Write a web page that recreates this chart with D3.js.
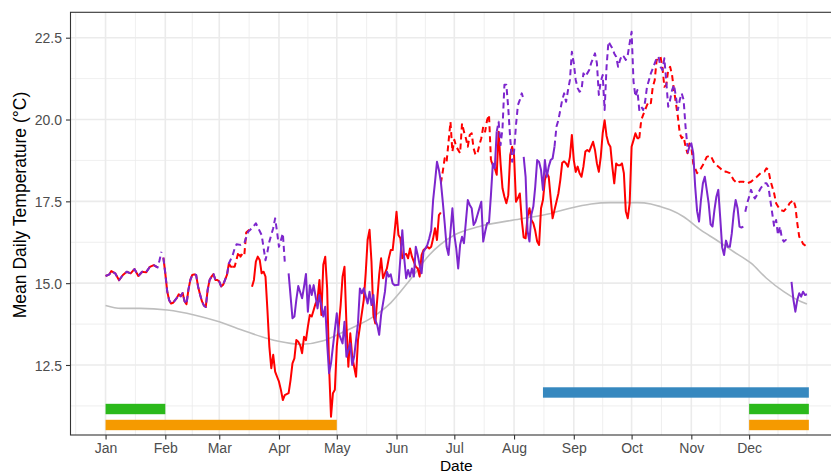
<!DOCTYPE html>
<html>
<head>
<meta charset="utf-8">
<script src="https://cdn.jsdelivr.net/npm/d3@7"></script>
<style>
  body { margin: 0; background: #fff; }
  svg { display: block; font-family: "Liberation Sans", Arial, Helvetica, sans-serif; }
</style>
</head>
<body>
<script>
// ---- data: [day of year (0 = Jan 1), mean daily temperature] ----

// Jan - mid Mar both years read the same
var janShared = [[0,15.22],[2,15.27],[3,15.37],[5,15.3],[7,15.09],[9,15.25],[11,15.35],[13,15.3],[15,15.43],
  [17,15.22],[19,15.35],[21,15.33],[23,15.5],[25,15.55],[27,15.48]];
var febShared = [[30,15.78],[31,15.3],[32,14.75],[33,14.48],[34,14.38],[35,14.4],[37,14.55],[38,14.66],[39,14.6],
  [40,14.7],[41,14.45],[42,14.36],[43,14.8],[44,15.1],[45,15.25],[46,15.27],[47,15.25],[48,14.9],[49,14.66],
  [50,14.45],[51,14.32],[52,14.27],[53,14.8],[54,15.1],[55,15.2],[56,15.28],[57,15.1],[58,15.1],[59,15.05],
  [60,14.9],[61,14.95],[62,15.1],[63,15.25],[64,15.6]];

// red series
var redFebEnd = [[64,15.6],[65,15.5],[66,15.5]];
var redMarDash = [[66,15.5],[67,15.5],[69,15.96],[70,15.81],[71,15.9],[72,15.85],[73,16.55],[74,16.6],[75,16.65]];
var redSpring = [[76,14.89],[77,15.1],[78,15.66],[79,15.81],[80,15.71],[81,15.3],[82,15.35],[83,15.2],[84,14.18],
  [85,13.06],[86,12.4],[87,12.81],[88,12.3],[89,12.14],[90,11.99],[91,11.74],[92,11.43],[93,11.58],[95,11.64],
  [96,12.04],[97,12.55],[98,12.7],[99,13.26],[100,13.21],[101,13.1],[102,12.86],[103,13.36],[104,13.26],[105,13.67],
  [106,14.03],[107,13.98],[109,14.38],[110,14.49],[111,15.1],[112,14.03],[113,15.56],[114,15.81],[115,14.84],
  [116,12.45],[117,10.92],[118,11.64],[119,11.74],[120,13.06],[121,13.67],[122,14.33],[123,15.2],[124,15.5],
  [125,13.77],[126,12.45],[127,13.47],[128,12.75],[130,12.14],[131,13.26],[132,13.67],[134,14.49],[135,15.3],
  [136,16.32],[137,16.63],[138,15.66],[139,14.03],[140,13.77],[142,15.25],[143,15.76],[144,15.15],[146,15.45],
  [147,15.76],[148,16.01],[149,16.01],[150,16.57],[151,17.18],[152,16.47],[153,16.37],[154,15.76],[155,15.86],
  [156,15.9],[157,15.76],[158,16.06],[159,15.81],[160,15.66],[161,15.5],[162,15.45],[163,15.2],[164,15.86],
  [165,16.01],[166,16.06],[167,16.11],[168,16.06],[169,16.11],[170,16.37],[171,16.68],[172,16.32],[173,17.08],
  [174,17.16]];
var redJulDash = [[174,18.05],[175,18.41],[176,18.82],[177,18.71],[178,19.32],[179,19.93],[180,19.02],[181,19.38],
  [182,19.17],[184,18.97],[185,19.88],[186,19.63],[187,19.43],[188,19.17],[189,19.53],[190,19.58],[191,19.12],
  [192,18.92],[193,18.97],[194,19.22],[195,19.43],[196,19.78],[197,19.63],[198,19.98],[199,20.14],[200,18.76]];
var redLateSummer = [[200,18.76],[201,18.61],[202,18.51],[203,18.31],[204,19.63],[205,18.66],[206,17.9],[207,17.64],
  [208,17.44],[209,17.69],[210,18.92],[211,19.17],[212,18.9],[213,17.49],[214,17.6],[215,17.74],[216,16.93],
  [217,16.4],[218,16.37],[219,17.03],[220,17.29],[221,16.93],[222,16.83],[223,16.6],[224,16.27],[225,16.17],
  [226,17.29],[227,17.54],[228,18.15],[229,18.36],[230,18.25],[231,17.6],[232,16.98],[233,17.24],[234,17.49],
  [235,17.74],[236,18.15],[237,18.68],[238,18.72],[239,18.66],[240,18.56],[241,18.86],[242,19.53],[243,18.76],
  [244,18.4],[245,18.56],[246,18.36],[247,18.25],[248,18.56],[249,19.02],[250,19.07],[251,19.02],[252,19.17],
  [253,19.32],[254,19.07],[255,18.66],[256,18.4],[257,18.86],[258,19.58],[259,19.98],[260,19.5],[261,19.27],
  [262,19.17],[263,18.56],[264,18.05],[265,18.66],[266,18.6],[267,18.6],[268,18.66],[269,18.36],[270,17.2],
  [271,16.98],[272,17.44],[273,19.17],[274,19.37],[275,19.58],[276,19.43],[277,19.43]];
var redAutumnDash = [[277,19.43],[278,19.98],[279,20.14],[280,20.29],[281,20.44],[282,20.55],[283,20.5],[284,21.0],
  [285,21.2],[286,21.82],[287,21.85],[288,21.92],[289,21.6],[290,21.0],[291,21.06],[292,21.51],[293,21.61],
  [294,21.36],[295,20.9],[296,20.5],[297,20.09],[298,19.58],[299,19.43],[300,19.48],[301,19.17],[302,18.97],
  [303,19.27],[304,19.17],[305,18.66],[307,18.36],[309,18.51],[310,18.61],[312,18.86],[314,18.9],[316,18.66],
  [317,18.61],[319,18.51],[321,18.4],[322,18.41],[324,18.36],[326,18.15],[328,18.05],[329,18.1],[331,18.1],
  [333,18.05],[335,18.1],[336,18.15],[338,18.25],[340,18.36],[342,18.41],[343,18.51],[344,18.46],[345,18.15],
  [347,17.74],[348,17.44],[350,17.24],[352,17.2],[354,17.34],[355,17.44],[357,17.54],[358,17.34],[359,16.83],
  [360,16.42],[361,16.32],[362,16.2],[364,16.11]];

// purple series
var purpleJanEnd = [[28,15.7],[29,15.96]];
var purpleMarDash = [[64,15.6],[66,15.86],[67,16.06],[68,16.19],[70,16.17],[71,16.2],[72,16.22],[74,16.57],
  [76,16.68],[78,16.83],[81,16.47],[83,15.7],[84,15.96],[85,16.27],[87,16.68],[88,16.98],[89,16.57],[90,16.11],
  [92,16.52],[93,15.66]];
var purpleSpring = [[95,15.3],[97,13.93],[98,13.98],[99,14.49],[100,14.91],[102,14.54],[103,14.89],[104,15.28],
  [105,14.13],[106,14.94],[107,14.64],[108,14.94],[109,14.59],[110,14.23],[111,14.64],[113,13.98],[114,14.28],
  [115,13.16],[116,12.25],[117,12.55],[119,13.57],[120,14.08],[121,13.47],[123,13.16],[124,13.82],[125,12.75],
  [127,13.16],[128,12.5],[129,12.75],[131,13.77],[132,14.84],[133,14.69],[134,14.84],[136,14.38],[137,14.74],
  [138,14.33],[139,14.64],[140,13.87],[141,13.72],[142,13.42],[143,14.03],[145,14.74],[146,15.35],[147,15.2],
  [148,15.27],[149,14.99],[150,14.94],[152,14.95],[153,15.76],[154,16.62],[155,15.76],[156,15.15],[157,15.4],
  [158,15.2],[159,15.45],[160,15.2],[161,16.11],[162,15.86],[163,15.56],[164,15.3],[165,15.96],[166,16.06],
  [167,16.17],[168,16.37],[169,16.62],[170,17.54],[171,18.1],[172,18.71],[173,18.46],[174,18.1],[175,17.49],
  [176,16.83],[177,16.11],[178,15.86],[179,16.57],[180,17.29],[181,16.47],[182,16.06],[183,15.45],[184,16.17],
  [185,16.42],[186,16.22],[187,16.88],[188,17.54],[189,17.39],[190,17.29],[191,16.78],[192,16.88],[193,17.08],
  [194,17.29],[195,17.49],[196,16.27],[197,16.57],[198,16.83],[199,16.85],[200,17.69],[201,18.66],[202,18.51],
  [203,19.63]];
var purpleJulDash = [[203,19.63],[204,19.93],[205,19.22],[206,19.73],[207,21.06],[208,21.06],[209,20.34],
  [210,19.43],[211,18.71],[212,19.02],[213,19.83],[214,20.44],[215,20.6],[216,20.8],[217,20.6]];
var purpleAug = [[217,18.86],[218,18.25],[219,16.6],[220,16.27],[221,17.1],[222,17.34],[223,17.95],[224,18.76],
  [225,18.7],[226,18.46],[227,17.85],[228,18.76],[229,18.25],[230,18.56],[231,18.76],[232,18.81],[233,19.17]];
var purpleAutumnDash = [[233,19.17],[234,19.78],[235,19.98],[236,20.29],[237,20.6],[238,20.8],[239,20.54],
  [240,20.9],[241,21.21],[242,22.07],[243,21.72],[244,21.21],[245,20.96],[246,20.85],[247,20.9],[248,21.41],
  [249,21.31],[250,21.41],[251,21.51],[252,21.72],[254,22.02],[255,21.72],[256,20.75],[257,21.16],[258,21.36],
  [259,20.29],[260,21.61],[261,22.38],[262,22.28],[263,22.18],[264,22.02],[265,21.92],[266,21.61],[267,21.82],
  [268,21.97],[269,21.92],[270,21.82],[271,21.97],[272,22.33],[273,22.68],[274,21.16],[275,20.7],[276,20.9],
  [277,20.29],[278,20.4],[279,20.29],[280,20.54],[281,21.0],[282,21.2],[283,21.41],[284,21.56],[285,21.72],
  [286,21.87],[287,21.92],[288,21.61],[289,21.51],[290,21.87],[291,21.16],[292,20.39],[293,20.6],[294,20.9],
  [295,21.06],[296,20.7],[297,20.29],[298,20.6],[299,20.8],[300,20.6],[301,19.78],[302,19.17]];
var purpleNov = [[302,18.97],[303,19.17],[304,19.27],[305,18.97],[306,17.95],[307,17.2],[308,16.88],[309,17.54],
  [310,18.05],[311,18.25],[312,17.85],[313,17.44],[314,16.8],[315,16.73],[316,17.24],[317,17.64],[318,17.85],
  [319,17.0],[320,16.1],[321,15.86],[322,16.3],[323,16.11],[324,16.11],[325,16.52],[326,17.13],[327,17.54],
  [328,17.29],[329,16.73],[330,16.7],[331,16.73]];
var purpleDecDash = [[332,17.18],[333,17.44],[334,17.64],[335,17.85],[336,17.69],[337,17.59],[338,17.69],
  [339,17.79],[340,17.9],[342,18.05],[343,18.05],[344,17.95],[345,17.54],[346,17.13],[347,16.73],[348,16.93],
  [349,16.47],[350,16.73],[351,16.37],[352,16.27],[353,16.32],[354,16.27]];
var purpleDecEnd = [[356,15.04],[357,14.49],[358,14.13],[359,14.49],[360,14.69],[361,14.59],[362,14.74],
  [363,14.64],[364,14.66]];

// long-term daily climatology
var climatology = [[0,14.32],[8,14.23],[18,14.23],[32,14.18],[46,14.03],[59,13.82],[73,13.52],[84,13.31],
  [96,13.16],[101,13.13],[113,13.24],[122,13.47],[130,13.69],[139,13.98],[148,14.4],[158,15.1],[168,15.86],
  [181,16.47],[194,16.73],[215,16.96],[231,17.13],[241,17.29],[252,17.42],[262,17.46],[276,17.46],[283,17.42],
  [288,17.34],[293,17.24],[300,17.03],[309,16.62],[317,16.32],[326,15.96],[335,15.61],[343,15.15],[352,14.74],
  [359,14.49],[364,14.36]];

// period bars (start day, end day, level)
var barStart = [227, 0, 0, 334, 334];
var barEnd = [365, 31, 120, 365, 365];
var barLevel = [11.66, 11.155, 10.667, 11.155, 10.667];
var barGroup = ["c", "a", "b", "a", "b"];

var yTicks = [12.5, 15.0, 17.5, 20.0, 22.5];
var yMinor = [11.25, 13.75, 16.25, 18.75, 21.25];

// ---- segments per series ----
var redSolid = [janShared, febShared.concat(redFebEnd.slice(1)), redSpring, redLateSummer];
var redDashed = [redMarDash, redJulDash, redAutumnDash];
var purpleSolid = [purpleSpring, purpleAug, purpleNov, purpleDecEnd];
var purpleDashed = [janShared.concat(purpleJanEnd), febShared.concat(purpleMarDash.slice(1)),
  purpleJulDash, purpleAutumnDash, purpleDecDash];

var barColor = {a: "#2bb91b", b: "#f59a00", c: "#3688bf"};

// ---- drawing ----
var width = 831, height = 474;
var year = 2021;
function dayToDate(d) {
    return new Date(Date.UTC(year, 0, 1) + d * 864e5);
}

var panel = {left: 70.5, right: 842, top: 12.3, bottom: 435};

var x = d3.scaleUtc()
    .domain([dayToDate(-18.2), dayToDate(364 + 18.2)])
    .range([panel.left, panel.right]);

var y = d3.scaleLinear()
    .domain([10.361, 23.276])
    .range([panel.bottom, panel.top]);

var svg = d3.select("body").append("svg")
    .attr("width", width)
    .attr("height", height);

var months = d3.utcMonth.range(dayToDate(0), dayToDate(365));
// minor x breaks: month midpoints plus one step beyond each end
var xMinor = [];
var ext = [dayToDate(-31)].concat(months, [dayToDate(364)]);
for (var i = 0; i < ext.length - 1; i++) {
    xMinor.push(new Date((ext[i].getTime() + ext[i + 1].getTime()) / 2));
}
xMinor.push(dayToDate(364));

var grid = svg.append("g").attr("class", "grid");

grid.selectAll("line.ymin").data(yMinor).enter().append("line")
    .attr("x1", panel.left).attr("x2", width)
    .attr("y1", function(d) { return y(d); })
    .attr("y2", function(d) { return y(d); })
    .attr("stroke", "#ebebeb").attr("stroke-width", 0.8);

grid.selectAll("line.xmin").data(xMinor).enter().append("line")
    .attr("x1", function(d) { return x(d); })
    .attr("x2", function(d) { return x(d); })
    .attr("y1", panel.top).attr("y2", panel.bottom)
    .attr("stroke", "#ebebeb").attr("stroke-width", 0.8);

grid.selectAll("line.ymaj").data(yTicks).enter().append("line")
    .attr("x1", panel.left).attr("x2", width)
    .attr("y1", function(d) { return y(d); })
    .attr("y2", function(d) { return y(d); })
    .attr("stroke", "#ebebeb").attr("stroke-width", 1.6);

grid.selectAll("line.xmaj").data(months).enter().append("line")
    .attr("x1", function(d) { return x(d); })
    .attr("x2", function(d) { return x(d); })
    .attr("y1", panel.top).attr("y2", panel.bottom)
    .attr("stroke", "#ebebeb").attr("stroke-width", 1.6);

var line = d3.line()
    .x(function(d) { return x(dayToDate(d[0])); })
    .y(function(d) { return y(d[1]); });

// climatology
svg.append("path")
    .datum(climatology)
    .attr("d", line.curve(d3.curveMonotoneX))
    .attr("fill", "none")
    .attr("stroke", "#bebebe")
    .attr("stroke-width", 1.6);
line.curve(d3.curveLinear);

function drawSegs(segs, color, dash) {
    svg.append("g").selectAll("path").data(segs).enter().append("path")
        .attr("d", line)
        .attr("fill", "none")
        .attr("stroke", color)
        .attr("stroke-width", 2)
        .attr("stroke-linejoin", "round")
        .attr("stroke-dasharray", dash);
}

drawSegs(redSolid, "#ff0000", null);
drawSegs(redDashed, "#ff0000", "6,4");
drawSegs(purpleSolid, "#7d26cd", null);
drawSegs(purpleDashed, "#7d26cd", "6,4");

// bars
svg.append("g").selectAll("rect").data(barStart).enter().append("rect")
    .attr("x", function(d, i) { return x(dayToDate(barStart[i])); })
    .attr("width", function(d, i) { return x(dayToDate(barEnd[i])) - x(dayToDate(barStart[i])); })
    .attr("y", function(d, i) { return y(barLevel[i]) - 5.2; })
    .attr("height", 10.4)
    .attr("fill", function(d, i) { return barColor[barGroup[i]]; });

// panel border
svg.append("rect")
    .attr("x", panel.left).attr("y", panel.top)
    .attr("width", panel.right - panel.left)
    .attr("height", panel.bottom - panel.top)
    .attr("fill", "none")
    .attr("stroke", "#333333")
    .attr("stroke-width", 1.1);

// axes
var xAxis = svg.append("g")
    .attr("transform", "translate(0," + panel.bottom + ")")
    .call(d3.axisBottom(x).tickValues(months).tickFormat(d3.utcFormat("%b")).tickSize(4.5).tickPadding(4));
var yAxis = svg.append("g")
    .attr("transform", "translate(" + panel.left + ",0)")
    .call(d3.axisLeft(y).tickValues(yTicks).tickFormat(d3.format(".1f")).tickSize(4.5).tickPadding(4));

[xAxis, yAxis].forEach(function(a) {
    a.select(".domain").remove();
    a.selectAll(".tick line").attr("stroke", "#333333").attr("stroke-width", 1.1);
    a.selectAll(".tick text")
        .attr("fill", "#4d4d4d")
        .style("font-size", "14px")
        .style("font-family", "'Liberation Sans', Arial, sans-serif");
});
yAxis.selectAll(".tick text").attr("dy", "0.36em");

// titles (Date squeezed in under the month labels)
svg.append("text")
    .attr("x", (panel.left + panel.right) / 2)
    .attr("y", 470.6)
    .attr("text-anchor", "middle")
    .style("font-size", "15.5px")
    .text("Date");

svg.append("text")
    .attr("transform", "translate(25.5,205) rotate(-90)")
    .attr("text-anchor", "middle")
    .style("font-size", "17.5px")
    .text("Mean Daily Temperature (°C)");
</script>
</body>
</html>
